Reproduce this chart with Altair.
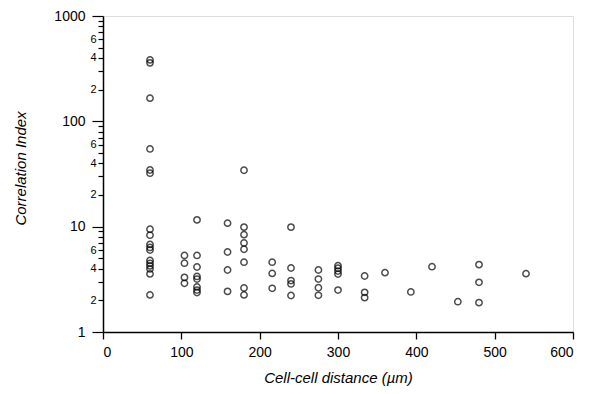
import altair as alt
import pandas as pd

# Cell-cell distance columns (µm) and the correlation indices observed at each
distances = [60, 104, 120, 159, 180, 216, 240, 275, 300, 334, 360, 393, 420, 453, 480, 540]
indices = [
    [383, 359, 166, 54.7, 34.5, 32.2, 9.45, 8.3, 6.78, 6.35, 6.0, 4.78, 4.49, 4.24, 3.97, 3.56, 2.25],
    [5.33, 4.5, 3.3, 2.9],
    [11.6, 5.33, 4.14, 3.37, 3.18, 2.68, 2.5, 2.37],
    [10.8, 5.75, 3.88, 2.43],
    [34.3, 9.9, 8.4, 7.0, 6.1, 4.6, 2.62, 2.25],
    [4.6, 3.6, 2.6],
    [9.9, 4.05, 3.08, 2.86, 2.22],
    [3.88, 3.18, 2.63, 2.23],
    [4.26, 4.03, 3.79, 3.55, 2.5],
    [3.4, 2.38, 2.12],
    [3.66],
    [2.4],
    [4.17],
    [1.94],
    [4.36, 2.96, 1.9],
    [3.58],
]

x_ticks = [0, 100, 200, 300, 400, 500, 600]
y_ticks = [m * 10 ** e for e in range(3) for m in range(1, 10)] + [1000]
y_major = [1, 10, 100, 1000]
y_minor_labeled = [2, 4, 6, 20, 40, 60, 200, 400, 600]

rows = [{"d": d, "ci": v} for d, vals in zip(distances, indices) for v in vals]
df = pd.DataFrame(rows)

major_test = "indexof(" + str(y_major) + ", datum.value) >= 0"
label_expr = (
    major_test + " ? format(datum.value, 'd') : "
    "(indexof(" + str(y_minor_labeled) + ", datum.value) >= 0 ? "
    "substring(format(datum.value, 'd'), 0, 1) : '')"
)

font = "Liberation Sans"

chart = alt.Chart(df).mark_point(
    shape="circle", filled=False, color="black", size=40, strokeWidth=1.5
).encode(
    x=alt.X(
        "d:Q",
        scale=alt.Scale(domain=[0, 600], nice=False, zero=False),
        axis=alt.Axis(
            values=x_ticks, title="Cell-cell distance (µm)", grid=False,
            format="d",
            tickSize=7, tickColor="black", domainColor="black", domainWidth=1.5,
            tickWidth=1.3, labelFontSize=14, labelPadding=6, labelColor="black",
            labelFont=font, titleFont=font, titleFontSize=15, titleFontStyle="italic",
            titleFontWeight="normal", titleColor="black",
            titleX=235, titleY=45, titleBaseline="middle", titleAlign="center",
        ),
    ),
    y=alt.Y(
        "ci:Q",
        scale=alt.Scale(type="log", domain=[1, 1000], nice=False),
        axis=alt.Axis(
            values=y_ticks, title="Correlation Index", grid=False,
            labelExpr=label_expr,
            tickSize={"condition": {"test": major_test, "value": 11}, "value": 5},
            labelFontSize={"condition": {"test": major_test, "value": 14}, "value": 11},
            labelPadding={"condition": {"test": major_test, "value": 7}, "value": 2},
            tickColor="black", domainColor="black", domainWidth=1.5, tickWidth=1.2,
            labelColor="black", labelFont=font, labelOverlap=False,
            titleFont=font, titleFontSize=15, titleFontStyle="italic",
            titleFontWeight="normal", titleColor="black",
            titleX=-83, titleY=152, titleAngle=270, titleAlign="center",
            titleBaseline="middle",
        ),
    ),
).properties(
    width=470, height=316,
    autosize=alt.AutoSizeParams(type="none"),
    padding={"left": 95, "top": 8, "right": 10, "bottom": 60},
).configure_view(
    stroke="black", strokeWidth=1.5
).configure(background="white")

chart.save("out.html", embed_options={"renderer": "svg", "actions": False})
